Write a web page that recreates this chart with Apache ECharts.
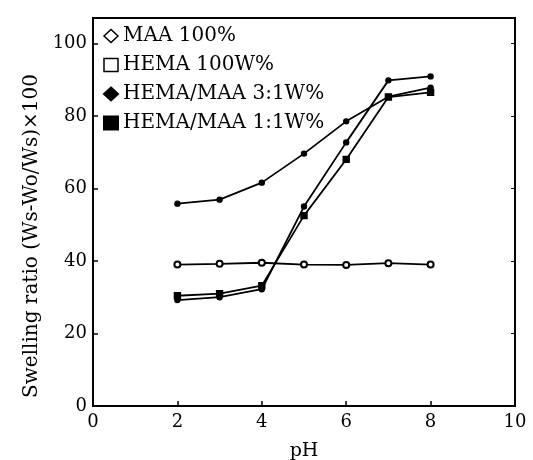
<!DOCTYPE html>
<html>
<head>
<meta charset="utf-8">
<script src="https://cdn.jsdelivr.net/npm/echarts@6/dist/echarts.min.js"></script>
<style>html,body{margin:0;padding:0;background:#fff}#c{width:533px;height:460px}</style>
</head>
<body>
<div id="c"></div>
<script>
var pH = [2, 3, 4, 5, 6, 7, 8];
var seriesNames = ['MAA 100%', 'HEMA 100W%', 'HEMA/MAA 3:1W%', 'HEMA/MAA 1:1W%'];
var maa100 = [55.8, 56.9, 61.6, 69.6, 78.5, 85.3, 87.8];
var hema100 = [39.0, 39.2, 39.5, 39.0, 38.9, 39.4, 39.0];
var hemaMaa31 = [29.2, 30.0, 32.2, 55.0, 72.7, 89.8, 90.9];
var hemaMaa11 = [30.4, 31.0, 33.2, 52.5, 68.0, 85.2, 86.5];
var xTicks = [0, 2, 4, 6, 8, 10];
var yTicks = [0, 20, 40, 60, 80, 100];

function pairs(v) { return pH.map(function (x, i) { return [x, v[i]]; }); }
var FONT = 'DejaVu Serif';
var chart = echarts.init(document.getElementById('c'), null, {renderer: 'canvas'});
function mkSeries(name, vals, sym, size) {
  return {
    name: name, type: 'line', data: pairs(vals),
    symbol: sym, symbolSize: size,
    lineStyle: {color: '#000', width: 1.8},
    itemStyle: {color: '#000', borderColor: '#000', borderWidth: 1.4},
    emphasis: {disabled: true}, animation: false, z: 3
  };
}
chart.setOption({
  animation: false,
  backgroundColor: '#fff',
  grid: {left: 93, right: 18, top: 18, bottom: 54, show: true, borderColor: '#000', borderWidth: 2,
    containLabel: false, outerBoundsMode: 'none'},
  legend: {
    orient: 'vertical', left: 98, top: 21,
    itemWidth: 14, itemHeight: 13, itemGap: 9,
    textStyle: {fontFamily: FONT, fontSize: 20, color: '#000', lineHeight: 20},
    selectedMode: false,
    data: [
      {name: seriesNames[0], icon: 'diamond', itemStyle: {color: '#fff', borderColor: '#000', borderWidth: 1.5}},
      {name: seriesNames[1], icon: 'rect', itemStyle: {color: '#fff', borderColor: '#000', borderWidth: 1.5}},
      {name: seriesNames[2], icon: 'diamond', itemStyle: {color: '#000', borderColor: '#000'}},
      {name: seriesNames[3], icon: 'rect', itemStyle: {color: '#000', borderColor: '#000'}}
    ]
  },
  xAxis: {
    type: 'value', min: 0, max: 10, interval: 2,
    name: 'pH', nameLocation: 'middle', nameGap: 36,
    nameTextStyle: {fontFamily: FONT, fontSize: 19, color: '#000'},
    axisLine: {lineStyle: {color: '#000', width: 2}},
    axisTick: {inside: true, length: 5, lineStyle: {color: '#000', width: 1.5}},
    axisLabel: {fontFamily: FONT, fontSize: 18, color: '#000', margin: 7,
      formatter: function (v) { return xTicks.indexOf(v) >= 0 ? String(v) : ''; }},
    splitLine: {show: false}
  },
  yAxis: [{
    type: 'value', min: 0, max: 107, interval: 20,
    name: 'Swelling ratio (Ws-Wo/Ws)\u00d7100', nameLocation: 'middle', nameGap: 48,
    nameTextStyle: {fontFamily: FONT, fontSize: 20, color: '#000', padding: [0, 48, 0, 0]},
    axisLine: {lineStyle: {color: '#000', width: 2}},
    axisTick: {inside: true, length: 5, lineStyle: {color: '#000', width: 1.5}},
    axisLabel: {fontFamily: FONT, fontSize: 18, color: '#000', margin: 6,
      formatter: function (v) { return yTicks.indexOf(v) >= 0 ? String(v) : ''; }},
    splitLine: {show: false}
  }, {
    type: 'value', min: 0, max: 107, interval: 20, position: 'right',
    axisLine: {show: true, lineStyle: {color: '#000', width: 2}},
    axisTick: {show: true, inside: true, length: 4, lineStyle: {color: '#000', width: 1}},
    axisLabel: {show: false}, splitLine: {show: false}
  }],
  series: [
    mkSeries(seriesNames[0], maa100, 'circle', 5),
    mkSeries(seriesNames[1], hema100, 'emptyCircle', 6),
    mkSeries(seriesNames[2], hemaMaa31, 'circle', 5),
    mkSeries(seriesNames[3], hemaMaa11, 'rect', 6)
  ]
});
</script>
</body>
</html>
